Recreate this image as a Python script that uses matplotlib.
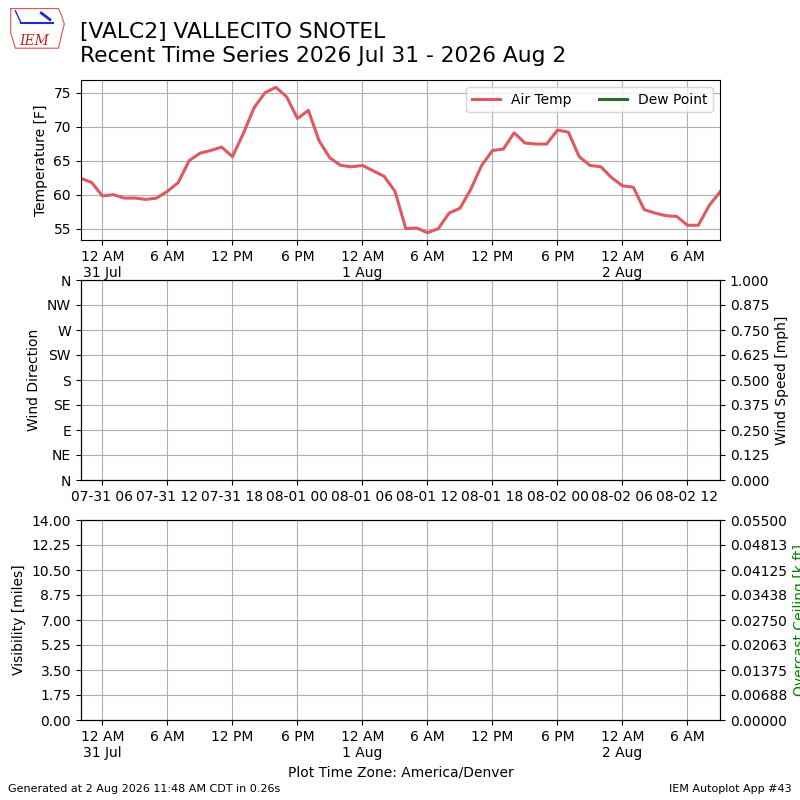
from datetime import datetime, timedelta, timezone

import matplotlib

matplotlib.use("Agg")
import matplotlib.dates as mdates
import matplotlib.pyplot as plt
from matplotlib.ticker import FuncFormatter

MDT = timezone(timedelta(hours=-6))

start = datetime(2026, 7, 30, 22, 0, tzinfo=MDT)
air_temp = [
    62.4, 61.8, 59.8, 60.0, 59.5, 59.5, 59.3, 59.5, 60.5, 61.8,
    65.0, 66.1, 66.5, 67.0, 65.6, 69.0, 72.8, 75.0, 75.8, 74.4,
    71.2, 72.4, 67.9, 65.4, 64.3, 64.1, 64.3, 63.5, 62.7, 60.5,
    55.0, 55.1, 54.4, 55.0, 57.3, 58.0, 60.8, 64.3, 66.5, 66.7,
    69.1, 67.6, 67.45, 67.45, 69.5, 69.2, 65.6, 64.3, 64.1, 62.5,
    61.3, 61.1, 57.8, 57.3, 56.9, 56.8, 55.5, 55.5, 58.4, 60.4,
]
times = [start + timedelta(hours=i) for i in range(len(air_temp))]

wind_dir_labels = ["N", "NE", "E", "SE", "S", "SW", "W", "NW", "N"]
wind_dir_ticks = [0, 45, 90, 135, 180, 225, 270, 315, 360]
wind_speed_ticks = [0.0, 0.125, 0.25, 0.375, 0.5, 0.625, 0.75, 0.875, 1.0]
vis_ticks = [0.0, 1.75, 3.5, 5.25, 7.0, 8.75, 10.5, 12.25, 14.0]
ceil_ticks = [0.0, 0.00688, 0.01375, 0.02063, 0.0275, 0.03438, 0.04125, 0.04813, 0.055]


def local_fmt(x, pos=None):
    dt = mdates.num2date(x, tz=MDT)
    h = dt.hour
    if h == 0:
        return "12 AM\n%d %s" % (dt.day, dt.strftime("%b"))
    if h == 12:
        return "12 PM"
    return "%d %s" % (h % 12, "AM" if h < 12 else "PM")


fig = plt.figure(figsize=(8, 8), dpi=100)

ax1 = fig.add_axes([0.101, 0.7, 0.799, 0.2])
ax2 = fig.add_axes([0.101, 0.4, 0.799, 0.25])
ax3 = fig.add_axes([0.101, 0.1, 0.799, 0.25])

locator = mdates.HourLocator(byhour=[0, 6, 12, 18], tz=MDT)

ax1.plot(times, air_temp, color="#dc5a60", lw=2.2, label="Air Temp")
ax1.plot([], [], color="#2d6b2d", lw=2.2, label="Dew Point")
ax1.set_xlim(times[0], times[-1])
ax1.set_yticks([55, 60, 65, 70, 75])
ax1.set_ylabel("Temperature [F]")
ax1.grid(True, color="#b0b0b0")
ax1.legend(loc="upper right", ncol=2, borderaxespad=0.5)
ax1.xaxis.set_major_locator(locator)
ax1.xaxis.set_major_formatter(FuncFormatter(local_fmt))

ax2.set_xlim(times[0], times[-1])
ax2.set_ylim(0, 360)
ax2.set_yticks(wind_dir_ticks)
ax2.set_yticklabels(wind_dir_labels)
ax2.set_ylabel("Wind Direction")
ax2.grid(True, color="#b0b0b0")
ax2.xaxis.set_major_locator(mdates.HourLocator(byhour=[0, 6, 12, 18], tz=timezone.utc))
ax2.xaxis.set_major_formatter(mdates.DateFormatter("%m-%d %H", tz=timezone.utc))
ax2b = ax2.twinx()
ax2b.set_ylim(0, 1)
ax2b.set_yticks(wind_speed_ticks)
ax2b.set_yticklabels(["%.3f" % v for v in wind_speed_ticks])
ax2b.set_ylabel("Wind Speed [mph]")

ax3.set_xlim(times[0], times[-1])
ax3.set_ylim(0, 14)
ax3.set_yticks(vis_ticks)
ax3.set_yticklabels(["%.2f" % v for v in vis_ticks])
ax3.set_ylabel("Visibility [miles]")
ax3.grid(True, color="#b0b0b0")
ax3.xaxis.set_major_locator(locator)
ax3.xaxis.set_major_formatter(FuncFormatter(local_fmt))
ax3.set_xlabel("Plot Time Zone: America/Denver")
ax3b = ax3.twinx()
ax3b.set_ylim(0, 0.055)
ax3b.set_yticks(ceil_ticks)
ax3b.set_yticklabels(["%.5f" % v for v in ceil_ticks])
ax3b.set_ylabel("Overcast Ceiling [k ft]", color="green")

fig.text(0.1, 0.973, "[VALC2] VALLECITO SNOTEL\nRecent Time Series 2026 Jul 31 - 2026 Aug 2",
         fontsize=15.7, va="top", ha="left", linespacing=1.25)
fig.text(0.01, 0.01, "Generated at 2 Aug 2026 11:48 AM CDT in 0.26s", fontsize=8)
fig.text(0.99, 0.01, "IEM Autoplot App #43", fontsize=8, ha="right")

# rough logo
logo = fig.add_axes([0.012, 0.937, 0.072, 0.055])
logo.set_xlim(0, 1)
logo.set_ylim(0, 1)
logo.axis("off")
logo.plot([0.02, 0.85, 0.9, 0.95, 0.9, 0.85, 0.1, 0.02, 0.02],
          [0.95, 0.95, 0.8, 0.6, 0.35, 0.05, 0.05, 0.4, 0.95], color="#e05050", lw=0.8)
logo.plot([0.2, 0.75], [0.62, 0.62], color="#2030c0", lw=1.5)
logo.plot([0.1, 0.2], [0.9, 0.62], color="#2030c0", lw=1.0)
logo.plot([0.55, 0.7], [0.85, 0.7], color="#2030c0", lw=2.0)
logo.text(0.42, 0.22, "IEM", color="#c02020", fontsize=10, family="serif",
          style="italic", ha="center", va="center")

fig.savefig("out.png", dpi=100)
